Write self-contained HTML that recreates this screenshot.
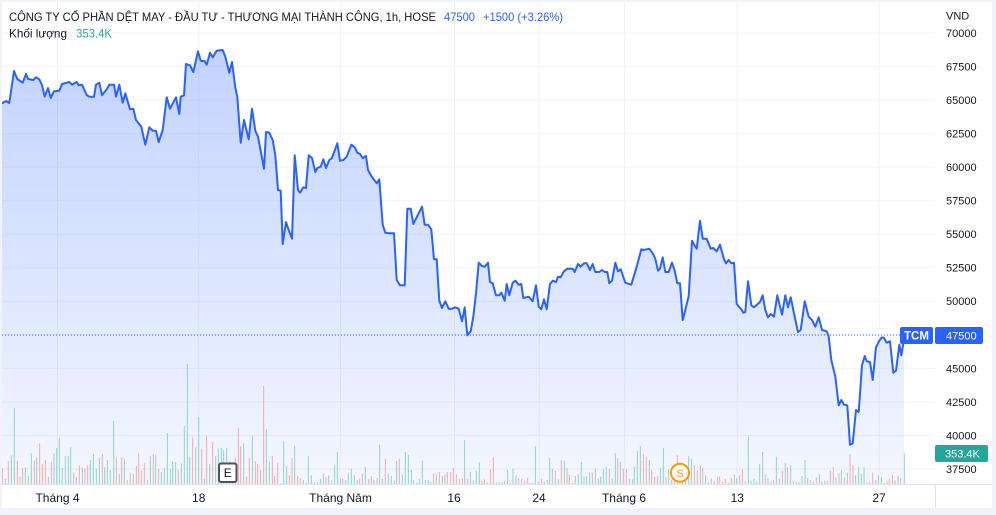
<!DOCTYPE html>
<html><head><meta charset="utf-8">
<style>
html,body{margin:0;padding:0;background:#f0f3fa;}
svg{display:block;}
text{font-family:"Liberation Sans","Noto Sans CJK SC",sans-serif;}
</style></head>
<body>
<svg id="c" width="996" height="515" viewBox="0 0 996 515" xmlns="http://www.w3.org/2000/svg">
<defs>
<linearGradient id="g" gradientUnits="userSpaceOnUse" x1="0" y1="50" x2="0" y2="485">
<stop offset="0" stop-color="#2962ff" stop-opacity="0.28"/>
<stop offset="1" stop-color="#2962ff" stop-opacity="0.05"/>
</linearGradient>
<clipPath id="pc"><rect x="2" y="2" width="933" height="482.5"/></clipPath>
</defs>
<rect x="0" y="0" width="996" height="515" fill="#f0f3fa"/>
<rect x="2" y="2" width="990" height="506" fill="#ffffff"/>
<g id="grid" stroke="#f0f3fa" stroke-width="1"></g>
<g clip-path="url(#pc)">
<polygon id="area" fill="url(#g)" points=""/>
<g id="bars"></g>
<polyline id="line" fill="none" stroke="#2962ff" stroke-width="2" stroke-linejoin="round" points=""/>
<line x1="2" y1="335" x2="900" y2="335" stroke="#2962ff" stroke-width="1" stroke-dasharray="1,2"/>
</g>
<line x1="2" y1="484.5" x2="992" y2="484.5" stroke="#e0e3eb" stroke-width="1"/>
<line x1="935.5" y1="485" x2="935.5" y2="508" stroke="#e0e3eb" stroke-width="1"/>

<!-- header -->
<text x="9" y="21" font-size="12" fill="#131722" textLength="427" lengthAdjust="spacingAndGlyphs">CÔNG TY CỔ PHẦN DỆT MAY - ĐẦU TƯ - THƯƠNG MẠI THÀNH CÔNG, 1h, HOSE</text>
<text x="444" y="21" font-size="12" fill="#2962ff" textLength="31" lengthAdjust="spacingAndGlyphs">47500</text>
<text x="483" y="21" font-size="12" fill="#2962ff" textLength="80" lengthAdjust="spacingAndGlyphs">+1500 (+3.26%)</text>
<text x="9" y="37.5" font-size="12" fill="#131722" textLength="58" lengthAdjust="spacingAndGlyphs">Khối lượng</text>
<text x="76" y="37.5" font-size="12" fill="#22ab94" textLength="36" lengthAdjust="spacingAndGlyphs">353.4K</text>

<!-- price axis -->
<text x="946" y="19.3" font-size="11" fill="#131722">VND</text>
<g id="ylab" font-size="11" fill="#131722"></g>

<!-- time axis -->
<g font-size="12" fill="#131722" text-anchor="middle">
<text x="57.5" y="502">Tháng 4</text>
<text x="198.7" y="502">18</text>
<text x="340.5" y="502">Tháng Năm</text>
<text x="454" y="502">16</text>
<text x="539" y="502">24</text>
<text x="624" y="502">Tháng 6</text>
<text x="737.3" y="502">13</text>
<text x="879" y="502">27</text>
</g>

<!-- labels -->
<rect x="900" y="327" width="33" height="17" rx="2" fill="#2962ff"/>
<text x="916.5" y="339.5" font-size="11.5" font-weight="bold" fill="#ffffff" text-anchor="middle">TCM</text>
<rect x="935" y="327" width="48" height="17" rx="2" fill="#2962ff"/>
<text x="946" y="339.5" font-size="11" fill="#ffffff">47500</text>
<rect x="935" y="445" width="53" height="17" rx="2" fill="#26a69a"/>
<text x="945" y="457.5" font-size="11" fill="#ffffff">353.4K</text>

<!-- markers -->
<rect x="219" y="463.5" width="17.5" height="18.5" rx="2" fill="#ffffff" stroke="#50535e" stroke-width="2"/>
<text x="227.7" y="477" font-size="12" fill="#131722" text-anchor="middle">E</text>
<circle cx="680" cy="472.7" r="9" fill="#ffffff" stroke="#ff9800" stroke-width="2"/>
<text x="680" y="476.8" font-size="11" fill="#ff9800" text-anchor="middle">S</text>
</svg>
<script>
(function(){
var NS="http://www.w3.org/2000/svg";
function el(t,a,p){var e=document.createElementNS(NS,t);for(var k in a)e.setAttribute(k,a[k]);p.appendChild(e);return e;}
// grid
var grid=document.getElementById('grid');
for(var k=0;k<14;k++){var y=33+k*33.54;el('line',{x1:2,x2:935,y1:y,y2:y},grid);}
[57.5,198.7,340.5,454.5,539.3,624.5,737.3,879.3].forEach(function(x){el('line',{x1:x,x2:x,y1:2,y2:484},grid);});
// y labels
var yl=document.getElementById('ylab');
for(var k=0;k<14;k++){var v=70000-k*2500;if(v===47500)continue;var y=33+k*33.54;var t=el('text',{x:946,y:(y+3.9).toFixed(1)},yl);t.textContent=String(v);}
// line
var P="0,100.7 2.7,103 6,101 9.3,103 14,71 17.3,79 22.7,82.7 26,74 28,79 33.3,80 36,77.3 39.3,79.3 42,85 44.7,96.7 48,88 50.7,98 54,91.3 59.3,90.7 62,84 69.3,82 72,84.7 76.7,82 78.7,85.3 82,84.7 86.7,95 89.3,96.7 94,96.7 96,84.7 99.3,82.7 102,95.3 106.7,89.3 109.3,84.7 114,84.7 116,96.7 119.3,84.7 122.7,102.7 125.3,93.3 130,109.3 133.3,108.7 136,120 141.3,126.7 145.3,144.7 149.3,127.3 152.7,130.7 156,130.7 158.7,142 162.7,130 166.7,97.3 170,108.7 176,97.3 179.3,114 180.7,96.7 184,95.3 186,64 190,65.3 193.3,72 198,51.3 200.7,60.7 204.7,61.3 206.7,64.7 210,52.7 212.7,57.3 216.7,50.7 222.7,50 225.3,56.7 229.3,72.7 232,62 235.3,87.3 237.3,96.7 240.7,142.7 244,120 248.7,139.3 252,108.7 255.3,130.7 258,136.7 264,168.7 266,132 269.3,132.7 272.7,140 275.3,155.3 278,190 280.7,190.7 282.7,244 286,222 288.7,230 292,238.7 294.7,155.3 298,190 300,192.7 303.3,187.3 306,188 308.7,155.3 312,158 315.3,172 317.3,168 320.7,166.7 323.3,159.3 326,168 329.3,160 332,158 337.3,143.3 340,160.7 343.3,160 346.7,156.7 351.3,144.7 354.7,147.3 357.3,152.7 360,154 362.7,158 366,156 368,170 371.3,176 376.7,183.3 379.3,179.3 382.7,224.7 385.3,232.7 389.3,233.3 394,233.3 396.7,280 400,285.3 404.7,285.3 407.3,208.7 410.7,208.7 413.3,224 422,206.7 424.7,224.7 428,224.7 431.3,229.3 434,259.3 436.7,259.3 439.3,300.7 442,308 445.3,301.3 448.7,308.7 452,308.7 455.3,307.3 458.7,308.7 462,321.3 464.7,307.3 467.3,335.3 470.7,331.3 473.3,316.7 476,293.3 478.7,262.7 482,266 484.7,266.7 488,262.7 490,282 492.7,283.3 496,295.3 499.3,295.3 501.3,292.7 504.7,300.7 506.7,284 509.3,295.3 512.7,282.7 515.3,280.7 518.7,284.7 521.3,284 523.3,298 528.7,296.7 532.7,301.3 536,285.3 538.7,306.7 541.3,309.3 544,299.3 546.7,309.3 550,284 552.7,280.7 556,282 558,276.7 560.7,277.3 564,271.3 567.3,268.7 572.7,268.7 574.7,272 578,264 580.7,266.7 584,263.3 586.7,263.3 590,270 592.7,264 595.3,272 599.3,272 602,270 604.7,272 607.3,272 609.3,283.3 612,280.7 615.3,262.7 618,271.3 620.7,269.3 625.3,282.7 631.3,284.7 636.7,266.7 641.3,249.3 643.3,250 646.7,249.3 649.3,248.7 652.7,253.3 655.3,258.7 658,270.7 660,268.7 662.7,257.3 665.3,272 668.7,272 672,262.7 674.7,270.7 677.3,283.3 680,283.3 682.7,320 685.3,310 688.7,296 692,240.7 695.3,246.7 696.7,248.7 700,220.7 702.7,238.7 706.7,238.7 710.7,248.7 713.3,248 716.7,251.3 720,244.7 724,259.3 726,263.3 728.7,260 731.3,263.3 734,262.7 736.7,304 741.3,309.3 743.3,312.7 745.3,312 748,281.3 751.3,305.3 754,307.3 760,302 762.7,295.3 765.3,310 768,317.3 770.7,314 774,316.7 777.3,295.3 782,314.7 785.3,295.3 788,307.3 790.7,297.3 793.3,310 798,332 800.7,330 804.7,301.3 808.7,316.7 812,320 815.3,326.7 818.7,317.3 822,330 826.7,331.3 828.7,336.7 831.3,360 835.3,376.7 838.7,405.3 841.3,400 844,404.7 847.3,405.3 850,444.7 852.7,443.3 856,410 858.7,412 862,365.3 864.7,356 866.7,361.3 870,362 872.7,380 876,347.3 879.3,340.7 882,337.3 884,338 886.7,342.7 890,341.3 893.3,372.7 896,370.7 899.3,344.7 901.3,355.3 903.3,343.3 904,336";
document.getElementById('line').setAttribute('points',P);
document.getElementById('area').setAttribute('points',P+" 904,485 0,485");
// bars
var bars=document.getElementById('bars');
function add(off,arr){arr.forEach(function(b){var x=off+b[0]/3;var top=350+b[1]/3;var h=485-top;el('rect',{x:(x-0.5).toFixed(2),y:top.toFixed(2),width:1,height:h.toFixed(2),fill:b[2]?'#92d2cc':'#f7a9a7'},bars);});}
add(0,[[7,354,0],[16,386,1],[25,333,0],[34,316,1],[43,174,1],[52,333,0],[60,380,0],[68,354,0],[76,352,1],[85,378,1],[94,310,1],[103,333,0],[110,322,1],[119,280,0],[127,342,0],[136,330,0],[145,380,1],[154,336,0],[162,310,1],[170,294,1],[178,264,1],[187,354,1],[196,318,1],[205,318,1],[212,292,1],[221,368,0],[229,380,1],[238,346,0],[247,352,1],[255,354,0],[263,346,0],[271,330,1],[280,312,1],[289,356,1],[298,324,1],[307,312,0],[314,352,1],[322,330,1],[331,360,1],[341,213,1],[349,322,0],[358,372,1],[365,322,0],[373,326,1],[382,390,0],[391,368,0],[400,372,1],[409,348,0],[416,310,0],[424,362,0],[433,340,0],[442,390,1],[451,318,1],[460,312,0],[467,316,1],[476,356,0],[484,366,1],[493,354,1],[502,249,1],[511,356,1],[518,334,1],[527,336,1],[535,360,0],[544,340,1],[553,228,1],[562,42,1],[569,320,1],[578,262,0],[587,292,1],[596,201,1],[605,296,0],[613,386,1],[620,258,0],[629,342,1],[638,276,0],[647,318,1],[655,296,1],[664,294,1],[671,300,1],[680,294,1],[689,334,1],[698,344,1],[706,322,0],[715,234,0],[722,288,0],[731,280,1],[739,380,0],[748,324,0],[757,258,1],[766,334,0],[773,342,0],[782,360,0],[791,108,0],[799,238,1],[808,336,1],[817,318,0],[824,378,0],[833,340,0],[842,400,1],[851,274,1],[860,348,1],[868,376,0],[876,324,0],[884,288,1],[893,378,0],[901,384,0],[910,390,1],[919,398,1],[925,318,1],[934,376,1],[943,396,0],[952,396,0],[961,386,1],[970,370,1],[978,380,0],[986,376,1],[995,392,1],[1004,346,1],[1012,306,1],[1021,386,0],[1028,386,1],[1037,390,1],[1045,370,1]]);
add(330,[[64,356,1],[73,376,1],[82,390,1],[89,386,0],[97,372,0],[106,350,1],[115,386,0],[124,378,0],[132,390,1],[141,384,0],[149,284,1],[157,386,1],[166,326,0],[175,370,1],[184,378,1],[193,392,1],[200,332,1],[208,326,0],[217,374,1],[226,306,1],[235,314,1],[244,360,1],[251,390,1],[260,398,1],[268,386,1],[277,332,1],[286,390,1],[295,390,1],[302,396,0],[311,370,0],[319,374,1],[328,366,0],[337,378,0],[345,374,1],[352,366,0],[362,366,0],[370,354,0],[379,372,0],[388,386,1],[397,384,0],[404,270,1],[412,386,0],[421,366,1],[430,392,1],[439,362,1],[448,336,1],[455,392,0],[463,388,0],[472,398,1],[481,358,0],[490,322,0],[499,398,1],[507,396,1],[516,396,1],[524,392,0],[533,360,1],[542,398,1],[549,356,1],[558,376,1],[566,384,0],[575,386,1],[584,392,0],[593,384,0],[600,398,0],[608,398,0],[616,288,1],[625,396,1],[634,386,0],[643,394,1],[652,390,0],[659,324,1],[667,356,1],[676,362,0],[685,388,1],[694,330,0],[703,332,1],[711,354,0],[718,374,0],[727,398,1],[736,378,0],[745,372,1],[754,336,1],[762,380,1],[770,378,1],[779,368,1],[787,368,1],[796,356,0],[805,386,1],[812,380,1],[820,356,1],[829,350,1],[838,356,0],[847,386,1],[856,310,1],[863,324,0],[871,336,1],[880,356,0],[889,358,0],[898,386,1],[907,388,1],[913,350,1],[922,302,1],[931,288,1],[940,312,0],[949,320,0],[958,330,1],[965,360,0],[974,380,0],[983,378,0]]);
add(650,[[31,354,1],[40,294,1],[48,380,0],[56,358,1],[65,390,1],[73,376,0],[82,316,0],[90,388,1],[98,392,1],[107,374,1],[116,318,1],[124,326,1],[133,346,0],[142,362,0],[151,346,1],[158,354,0],[167,376,1],[175,396,1],[184,386,0],[193,394,1],[202,382,0],[209,380,0],[217,396,0],[226,386,0],[235,398,0],[244,384,0],[253,374,1],[260,384,1],[269,376,0],[277,358,0],[286,394,1],[295,260,1],[303,392,1],[312,386,1],[320,394,1],[329,342,1],[338,306,1],[346,374,0],[354,384,1],[363,394,0],[371,390,0],[379,320,1],[388,386,1],[397,362,0],[406,340,1],[413,352,0],[422,346,1],[431,394,1],[439,396,0],[447,396,1],[456,378,1],[465,330,1],[473,384,1],[481,390,0],[490,396,0],[499,382,0],[508,372,1],[516,394,0],[524,392,1],[532,392,1],[541,362,0],[550,350,0],[558,384,1],[567,370,0],[574,360,1],[583,382,0],[592,368,1],[600,312,0],[609,346,0],[617,376,1],[626,350,1],[634,372,1],[642,352,1],[651,396,0],[659,396,0],[668,368,0],[677,390,1],[685,376,1],[694,382,1],[702,398,0],[711,394,0],[718,386,0],[727,374,0],[735,392,1],[744,378,1],[752,384,0],[763,310,1]]);
})();
</script>
</body></html>
